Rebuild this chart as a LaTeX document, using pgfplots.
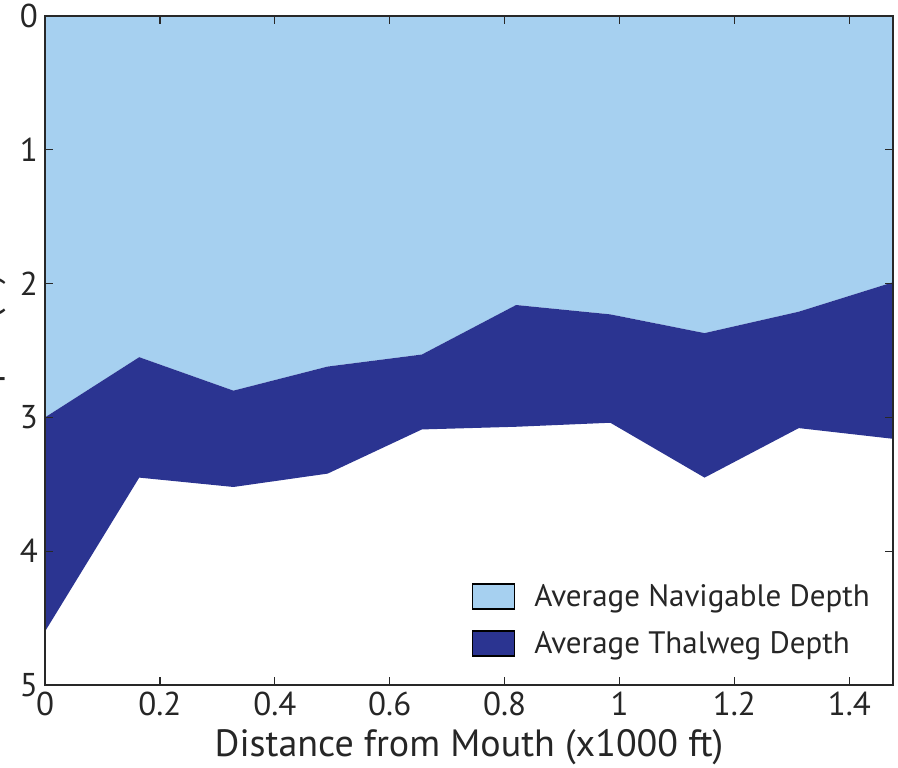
\documentclass[border=0pt]{standalone}
\usepackage{fontspec}
\setmainfont{PT Sans}
\usepackage{pgfplots}
\pgfplotsset{compat=1.18}
\usetikzlibrary{calc}
\definecolor{navlight}{RGB}{166,208,240}
\definecolor{thaldark}{RGB}{43,52,145}
\definecolor{axgray}{RGB}{40,40,40}
\begin{document}
\begin{tikzpicture}
\begin{axis}[
  name=ax,
  scale only axis,
  width=424pt, height=334.5pt,
  xmin=0, xmax=1.476,
  ymin=0, ymax=5,
  y dir=reverse,
  xtick={0,0.2,0.4,0.6,0.8,1,1.2,1.4},
  ytick={0,1,2,3,4,5},
  tick align=inside,
  tick style={axgray, line width=0.6pt},
  major tick length=4pt,
  axis line style={axgray, line width=0.9pt},
  /pgf/number format/assume math mode=true,
  ticklabel style={font=\fontsize{16.5}{18}\selectfont, color=black!85},
  xlabel={Distance from Mouth (x1000 ft)},
  ylabel={Depth (ft)},
  xlabel style={font=\fontsize{19}{21}\selectfont, color=black!85, yshift=0pt},
  ylabel style={font=\fontsize{19}{21}\selectfont, color=black!85},
  axis on top,
  legend style={draw=none, fill=none, at={(0.985,0.03)}, anchor=south east,
    font=\fontsize{15.5}{17}\selectfont, row sep=7pt, text=black!85},
  legend cell align=left,
  legend image code/.code={\draw[#1, draw=black, line width=0.6pt] (0pt,-6pt) rectangle (21pt,6.5pt); \path (29pt,0pt);},
]
\addplot[fill=navlight, draw=none] coordinates {
  (0,0) (0,3.00) (0.164,2.55) (0.328,2.80) (0.492,2.62) (0.656,2.53)
  (0.820,2.16) (0.984,2.23) (1.148,2.37) (1.312,2.21) (1.476,1.99) (1.476,0)
} -- cycle;
\addlegendentry{Average Navigable Depth}
\addplot[fill=thaldark, draw=none] coordinates {
  (0,3.00) (0.164,2.55) (0.328,2.80) (0.492,2.62) (0.656,2.53)
  (0.820,2.16) (0.984,2.23) (1.148,2.37) (1.312,2.21) (1.476,1.99)
  (1.476,3.16) (1.312,3.08) (1.148,3.45) (0.984,3.04) (0.820,3.07)
  (0.656,3.09) (0.492,3.42) (0.328,3.52) (0.164,3.45) (0,4.60)
} -- cycle;
\addlegendentry{Average Thalweg Depth}
\end{axis}
\pgfresetboundingbox
\path[use as bounding box] ($(ax.south west)+(-22.5pt,-41.5pt)$) rectangle ($(ax.north east)+(2.5pt,8pt)$);
\end{tikzpicture}
\end{document}
